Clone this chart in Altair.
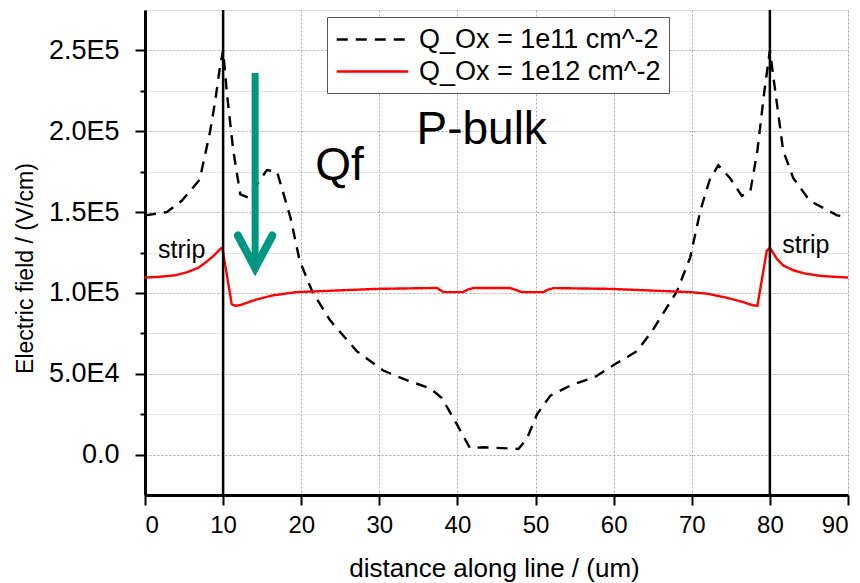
import altair as alt
import pandas as pd

# ---- data ----
S1 = "Q_Ox = 1e11 cm^-2"
S2 = "Q_Ox = 1e12 cm^-2"

x_1e11 = [0, 2.8, 4.7, 7, 8.3, 9, 9.6, 10, 10.5, 11.3, 12.2, 13.2, 15.6, 16.9, 18.6, 19.8,
          21.4, 23.7, 27.1, 30.5, 33.5, 36.5, 38, 39.9, 41.6, 43.3, 47.8, 48.9, 50.2, 51.9,
          54.6, 57.6, 60.2, 63, 65, 68.1, 69.8, 71.1, 72.3, 73.4, 74.9, 76.4, 77.5, 78.4,
          79.3, 80, 80.6, 81.7, 83, 85.1, 88.6, 90]
y_1e11_k = [148, 150, 157, 170, 199, 219, 240, 250, 223, 188, 161, 159, 176, 175, 147, 120,
            101, 83, 64, 52, 46, 41, 35, 19, 4, 4.5, 3.5, 10, 25, 36.5,
            43, 48, 56, 64, 77, 101, 122, 151, 170, 179, 171, 160, 163, 188,
            225, 250, 228, 188, 171, 157, 148, 147]

x_1e12 = [0, 2, 4, 5.5, 6.8, 7.8, 8.8, 9.6, 9.9, 11.1, 11.6, 12.2, 14.3, 16.4, 19.4, 22,
          29.7, 36.5, 37.4, 38.2, 40.7, 41.3, 42, 46.7, 47.4, 48.2, 51, 51.6, 52.3, 59.5,
          69.8, 72, 74.5, 76.5, 77.7, 78.4, 79.6, 80, 80.9, 81.7, 83, 84.5, 86.5, 88.1, 90]
y_1e12_k = [109.5, 110, 111, 113, 115.5, 119, 123, 127, 128, 93, 92, 92.5, 96, 98.5, 100.5, 101,
            102.5, 103, 103, 100.5, 100.5, 102, 103, 103, 102, 100.5, 100.5, 102, 103, 102.5,
            100.5, 99.5, 97, 94.5, 92.5, 92, 126, 128, 121, 117, 114, 112, 110.5, 110, 109.5]

strip_lines_x = [10, 80]

label_texts = ["strip", "strip"]
label_x = [4.7, 84.6]
label_y = [121300, 124400]

big_texts = ["Qf", "P-bulk"]
big_x = [24.9, 43.1]
big_y = [169600, 192400]

arrow_shaft_x = [14.1, 14.1]
arrow_shaft_y = [236000, 118000]
arrow_head_x = [11.9, 14.1, 16.3]
arrow_head_y = [135500, 115500, 135500]

x_ticks = list(range(0, 91, 5))
y_ticks = list(range(0, 250001, 25000))

# ---- tables ----
df = pd.concat([
    pd.DataFrame({"x": x_1e11, "y": [v * 1000 for v in y_1e11_k], "series": S1, "o": range(len(x_1e11))}),
    pd.DataFrame({"x": x_1e12, "y": [v * 1000 for v in y_1e12_k], "series": S2, "o": range(len(x_1e12))}),
])
FONT = "Liberation Sans"

xscale = alt.Scale(domain=[0, 90], nice=False, zero=False)
yscale = alt.Scale(domain=[-25000, 275000], nice=False, zero=False)

common_axis = dict(
    grid=True, gridWidth=1,
    domainColor="black", domainWidth=3, tickColor="black", tickWidth=2,
    labelColor="black", titleColor="black", labelFont=FONT, titleFont=FONT,
    labelFontWeight="normal", titleFontWeight="normal",
)

xmaj = "datum.value % 10 == 0"
ymaj = "datum.value % 50000 == 0"

xaxis = alt.Axis(
    values=x_ticks, title="distance along line / (um)",
    labelExpr=f"{xmaj} ? datum.label : ''",
    tickSize={"condition": {"test": xmaj, "value": 10}, "value": 5},
    gridColor={"condition": {"test": xmaj, "value": "#a8a8a8"}, "value": "#dcdcdc"},
    gridDash={"condition": {"test": xmaj, "value": [2, 2]}, "value": [1, 0]},
    labelFontSize=24, titleFontSize=26, labelPadding=8,
    titleX=349, titleY=81, titleBaseline="alphabetic", titleAlign="center",
    **common_axis,
)
yaxis = alt.Axis(
    values=y_ticks, title="Electric field / (V/cm)",
    labelExpr=f"!({ymaj}) ? '' : (datum.value == 0 ? '0.0' : upper(replace(format(datum.value, '.1e'), '+', '')))",
    tickSize={"condition": {"test": ymaj, "value": 10}, "value": 5},
    gridColor={"condition": {"test": ymaj, "value": "#a8a8a8"}, "value": "#dcdcdc"},
    gridDash={"condition": {"test": ymaj, "value": [2, 2]}, "value": [1, 0]},
    labelFontSize=27, titleFontSize=23, labelPadding=16,
    titleX=-120, titleY=258, titleAngle=270, titleBaseline="middle", titleAlign="center",
    **common_axis,
)

# long horizontal stroke symbol (path in unit box, scaled by sqrt(size)/2 = 13 px)
SYMBOL_PATH = "M-2.75,0H2.75"
legend = alt.Legend(
    title=None, orient="none", legendX=182, legendY=7,
    padding=8, strokeColor="#555", fillColor="white", cornerRadius=0,
    labelFontSize=27, labelFont=FONT, labelColor="black", labelLimit=400,
    symbolType=SYMBOL_PATH, symbolSize=676, symbolStrokeWidth=2.4,
    symbolOffset=23, labelOffset=32, rowPadding=4,
)

lines = alt.Chart(df).mark_line(strokeWidth=2.4).encode(
    x=alt.X("x:Q", scale=xscale, axis=xaxis),
    y=alt.Y("y:Q", scale=yscale, axis=yaxis),
    color=alt.Color("series:N", scale=alt.Scale(domain=[S1, S2], range=["black", "#ff0000"]),
                    legend=legend),
    strokeDash=alt.StrokeDash("series:N", scale=alt.Scale(domain=[S1, S2], range=[[11, 8], [1, 0]]),
                              legend=legend),
    order="o:Q",
)

vlines = alt.Chart(pd.DataFrame({"x": strip_lines_x})).mark_rule(color="black", strokeWidth=2.5).encode(
    x=alt.X("x:Q", scale=xscale, axis=xaxis)
)

strip_txt = alt.Chart(pd.DataFrame({"x": label_x, "y": label_y, "t": label_texts})).mark_text(
    fontSize=25, font=FONT, color="black", baseline="alphabetic", align="center"
).encode(x=alt.X("x:Q", scale=xscale), y=alt.Y("y:Q", scale=yscale, axis=yaxis), text="t:N")

big_txt = alt.Chart(pd.DataFrame({"x": big_x, "y": big_y, "t": big_texts})).mark_text(
    fontSize=46, font=FONT, color="black", baseline="alphabetic", align="center"
).encode(x=alt.X("x:Q", scale=xscale), y=alt.Y("y:Q", scale=yscale, axis=yaxis), text="t:N")

ARROW = "#009682"
shaft = alt.Chart(pd.DataFrame({"x": arrow_shaft_x, "y": arrow_shaft_y, "o": [0, 1]})).mark_line(
    color=ARROW, strokeWidth=7
).encode(x=alt.X("x:Q", scale=xscale), y=alt.Y("y:Q", scale=yscale, axis=yaxis), order="o:Q")

head = alt.Chart(pd.DataFrame({"x": arrow_head_x, "y": arrow_head_y, "o": [0, 1, 2]})).mark_line(
    color=ARROW, strokeWidth=8, strokeCap="round", strokeJoin="miter"
).encode(x=alt.X("x:Q", scale=xscale), y=alt.Y("y:Q", scale=yscale, axis=yaxis), order="o:Q")

chart = alt.layer(lines, vlines, strip_txt, big_txt, shaft, head).properties(
    width=703, height=485,
    autosize=alt.AutoSizeParams(type="none"),
    padding={"left": 145, "top": 10, "right": 12, "bottom": 88},
).configure_view(
    stroke="black", strokeWidth=3
).configure_axisY(
    labelFontSize=27
).configure(background="white")

chart.save("out.html", embed_options={"renderer": "svg", "actions": False})
